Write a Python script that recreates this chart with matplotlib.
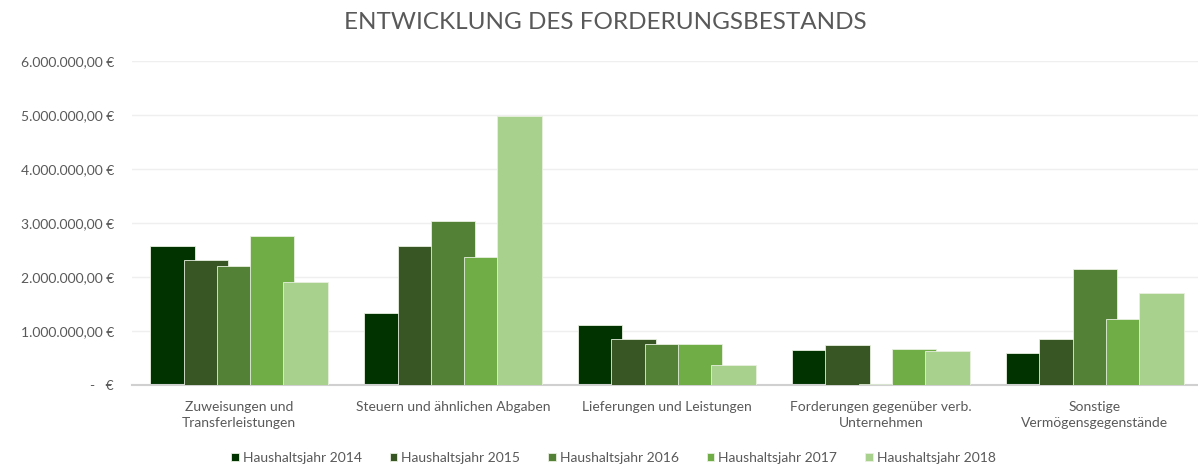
import numpy as np
import matplotlib.pyplot as plt
from matplotlib.ticker import FuncFormatter

plt.rcParams['font.family'] = ['Lato', 'DejaVu Sans']

categories = ['Zuweisungen und\nTransferleistungen',
              'Steuern und ähnlichen Abgaben',
              'Lieferungen und Leistungen',
              'Forderungen gegenüber verb.\nUnternehmen',
              'Sonstige\nVermögensgegenstände']
years = ['Haushaltsjahr 2014', 'Haushaltsjahr 2015', 'Haushaltsjahr 2016',
         'Haushaltsjahr 2017', 'Haushaltsjahr 2018']
v2014 = [2585000, 1333000, 1120000, 650000, 590000]
v2015 = [2320000, 2585000, 850000, 746000, 850000]
v2016 = [2215000, 3040000, 770000, 30000, 2160000]
v2017 = [2770000, 2370000, 770000, 667000, 1230000]
v2018 = [1920000, 4980000, 375000, 640000, 1700000]
colors = ['#003300', '#375623', '#538135', '#70AD47', '#A9D18E']

series = [v2014, v2015, v2016, v2017, v2018]
grey = '#595959'


def euro(v, pos):
    if v == 0:
        return '-   €'
    s = f'{v:,.2f}'.replace(',', 'X').replace('.', ',').replace('X', '.')
    return s + ' €'


fig = plt.figure(figsize=(11.98, 4.66), dpi=100)
ax = fig.add_axes([0.1102, 0.173, 0.893, 0.696])

x = np.arange(len(categories))
step = 0.1557
width = 0.207
for i, (vals, col, lab) in enumerate(zip(series, colors, years)):
    ax.bar(x + (i - 2) * step, vals, width, color=col, label=lab,
           edgecolor='#E8F0E0', linewidth=0.6, zorder=2 + i)

ax.set_xlim(-0.5, 4.5)
ax.set_ylim(0, 6000000)
ax.set_yticks(np.arange(0, 6000001, 1000000))
ax.yaxis.set_major_formatter(FuncFormatter(euro))
ax.set_xticks(x)
ax.set_xticklabels(categories, fontsize=10, color=grey, linespacing=1.45)
ax.tick_params(axis='y', labelsize=10, labelcolor=grey, length=0, pad=13)
ax.tick_params(axis='x', length=0, pad=11)
ax.grid(axis='y', color='#EFEFEF', linewidth=1, zorder=0)
ax.set_axisbelow(True)
for side in ['top', 'right', 'left']:
    ax.spines[side].set_visible(False)
ax.spines['bottom'].set_color('#D0D0D0')
ax.spines['bottom'].set_linewidth(1.5)

fig.text(0.505, 0.952, 'ENTWICKLUNG DES FORDERUNGSBESTANDS', ha='center', va='center',
         fontsize=17.5, color=grey)

fig.legend(loc='center', bbox_to_anchor=(0.512, 0.017), ncol=5, frameon=False,
           fontsize=10, labelcolor=grey, handlelength=0.55, handleheight=0.55,
           handletextpad=0.3, columnspacing=2.0)

fig.savefig('out.png', dpi=100)
